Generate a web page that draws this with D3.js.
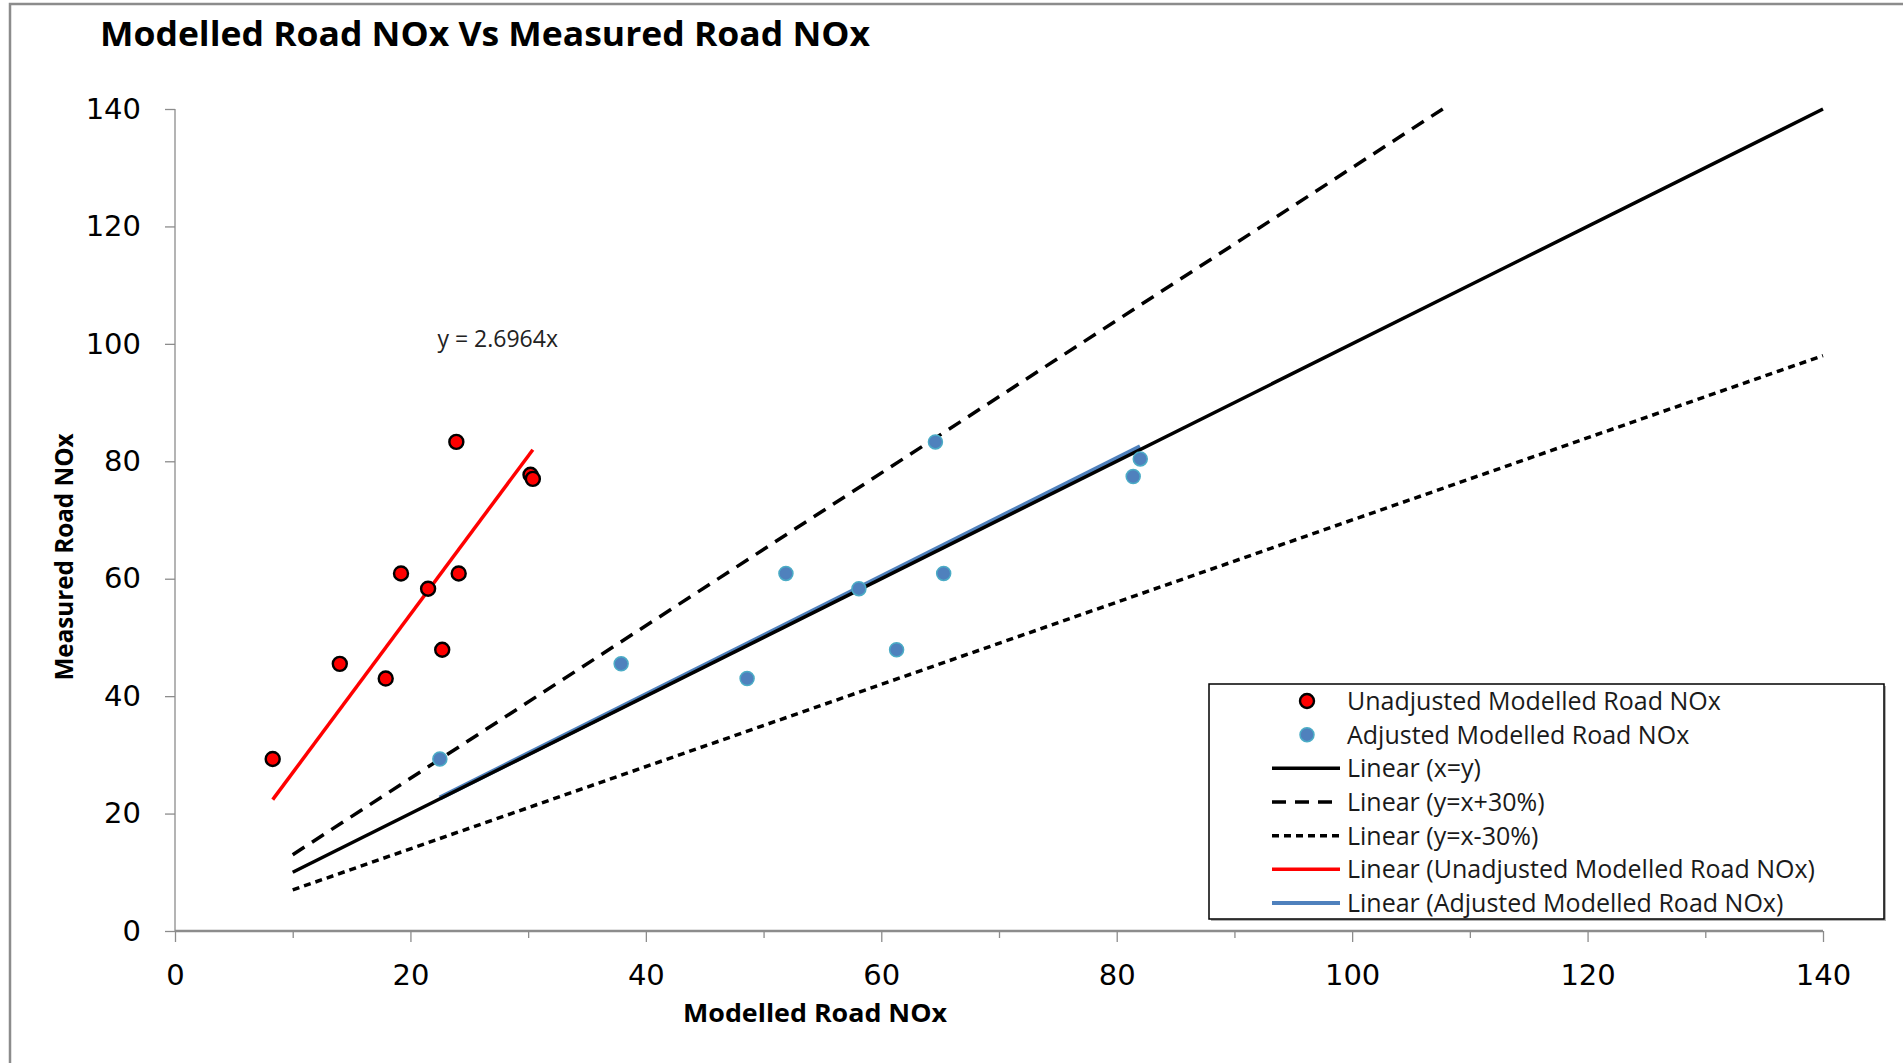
<!DOCTYPE html>
<html>
<head>
<meta charset="utf-8">
<script src="https://cdn.jsdelivr.net/npm/d3@7"></script>
<style>
  body { margin: 0; background: #fff; }
  svg { display: block; }
</style>
</head>
<body>
<div id="chart"></div>
<script>
// Modelled vs measured road NOx

// data
var unadjX = [8.3, 14.0, 17.9, 19.2, 21.5, 22.7, 23.9, 24.1, 30.2, 30.4];
var unadjY = [29.3, 45.5, 43.0, 60.9, 58.3, 47.9, 83.3, 60.9, 77.7, 77.0];
var adjX = [22.5, 37.9, 48.6, 51.9, 58.1, 61.3, 64.6, 65.3, 81.4, 82.0];
var adjY = [29.3, 45.5, 43.0, 60.9, 58.3, 47.9, 83.3, 60.9, 77.4, 80.4];

// straight lines: y = slope * x over [xFrom, xTo]
var lineNames = ["Linear (x=y)", "Linear (y=x+30%)", "Linear (y=x-30%)",
                 "Linear (Unadjusted Modelled Road NOx)", "Linear (Adjusted Modelled Road NOx)"];
var lineSlopes = [1, 1.3, 0.7, 2.6964, 1.006];
var lineFrom = [10, 10, 10, 8.3, 22.5];
var lineTo = [140, 107.7, 140, 30.4, 82.0];

var seriesNames = ["Unadjusted Modelled Road NOx", "Adjusted Modelled Road NOx"];
var xTicks = [0, 20, 40, 60, 80, 100, 120, 140];
var xMinorTicks = [10, 30, 50, 70, 90, 110, 130];
var yTicks = [0, 20, 40, 60, 80, 100, 120, 140];

var w = 1903, h = 1063;
var plotLeft = 175, plotRight = 1823, plotTop = 109, plotBottom = 931;

var svg = d3.select("#chart").append("svg")
    .attr("width", w).attr("height", h);

// chart frame (only top and left edges are visible)
svg.append("rect")
    .attr("x", 10).attr("y", 4)
    .attr("width", w + 20).attr("height", h + 20)
    .attr("fill", "#fff")
    .attr("stroke", "#8c8c8c").attr("stroke-width", 2.5);

var x = d3.scaleLinear().domain([0, 140]).range([plotLeft, plotRight]);
var y = d3.scaleLinear().domain([0, 140]).range([plotBottom, plotTop]);

// title
svg.append("text")
    .attr("x", 100).attr("y", 46)
    .attr("font-family", "'Open Sans', sans-serif")
    .attr("font-weight", "bold").attr("font-size", 34)
    .attr("textLength", 770).attr("lengthAdjust", "spacingAndGlyphs")
    .attr("fill", "#000")
    .text("Modelled Road NOx Vs Measured Road NOx");

// y axis
var yAxis = svg.append("g")
    .attr("transform", "translate(" + plotLeft + ",0)")
    .call(d3.axisLeft(y).tickValues(yTicks).tickSize(10).tickPadding(24));
yAxis.selectAll("path, line").attr("stroke", "#8c8c8c").attr("stroke-width", 1.3);
yAxis.select(".domain").attr("d", "M0," + plotTop + "V" + plotBottom);
yAxis.selectAll("text")
    .attr("font-family", "'DejaVu Sans', sans-serif").attr("font-size", 29).attr("fill", "#000");

// x axis
var xMinor = svg.append("g")
    .attr("transform", "translate(0," + plotBottom + ")")
    .call(d3.axisBottom(x).tickValues(xMinorTicks).tickSize(7).tickFormat(""));
xMinor.selectAll("line").attr("stroke", "#8c8c8c").attr("stroke-width", 1.3);
xMinor.select(".domain").remove();

var xAxis = svg.append("g")
    .attr("transform", "translate(0," + plotBottom + ")")
    .call(d3.axisBottom(x).tickValues(xTicks).tickSize(11).tickPadding(22));
xAxis.selectAll("line").attr("stroke", "#8c8c8c").attr("stroke-width", 1.3);
xAxis.select(".domain").attr("d", "M" + plotLeft + ",0H" + plotRight)
    .attr("stroke", "#8c8c8c").attr("stroke-width", 2.5);
xAxis.selectAll("text")
    .attr("font-family", "'DejaVu Sans', sans-serif").attr("font-size", 29).attr("fill", "#000");

// axis titles
svg.append("text")
    .attr("x", (683 + 947) / 2).attr("y", 1022)
    .attr("text-anchor", "middle")
    .attr("font-family", "'Open Sans', sans-serif")
    .attr("font-weight", "bold").attr("font-size", 25)
    .attr("textLength", 264).attr("lengthAdjust", "spacingAndGlyphs")
    .text("Modelled Road NOx");

svg.append("text")
    .attr("transform", "translate(73,557) rotate(-90)")
    .attr("text-anchor", "middle")
    .attr("font-family", "'Open Sans', sans-serif")
    .attr("font-weight", "bold").attr("font-size", 25)
    .attr("textLength", 247).attr("lengthAdjust", "spacingAndGlyphs")
    .text("Measured Road NOx");

// line styles
var lineColors = ["#000", "#000", "#000", "#ff0000", "#4f81bd"];
var lineWidths = [3.5, 3.5, 3.5, 3.5, 5];
var lineDash = [null, "14,9", "7,5", null, null];

var lineData = lineNames.map(function(n, i) {
    return { name: n, slope: lineSlopes[i], x0: lineFrom[i], x1: lineTo[i],
             color: lineColors[i], width: lineWidths[i], dash: lineDash[i] };
});

// draw order: blue trend first so black x=y sits over it
var drawOrder = [4, 1, 2, 0, 3];
drawOrder.forEach(function(i) {
    var d = lineData[i];
    svg.append("line")
        .attr("x1", x(d.x0)).attr("y1", y(d.slope * d.x0))
        .attr("x2", x(d.x1)).attr("y2", y(d.slope * d.x1))
        .attr("stroke", d.color).attr("stroke-width", d.width)
        .attr("stroke-dasharray", d.dash);
});

// equation label
svg.append("text")
    .attr("x", x(22.3)).attr("y", y(100.8))
    .attr("dy", "0.35em")
    .attr("font-family", "'Open Sans', sans-serif").attr("font-size", 23)
    .attr("fill", "#222")
    .text("y = 2.6964x");

// points
var unadj = unadjX.map(function(v, i) { return [v, unadjY[i]]; });
var adj = adjX.map(function(v, i) { return [v, adjY[i]]; });

svg.append("g").selectAll("circle")
    .data(adj).enter().append("circle")
    .attr("cx", function(d) { return x(d[0]); })
    .attr("cy", function(d) { return y(d[1]); })
    .attr("r", 7)
    .attr("fill", "#4f81bd").attr("stroke", "#4bacc6").attr("stroke-width", 1.5);

svg.append("g").selectAll("circle")
    .data(unadj).enter().append("circle")
    .attr("cx", function(d) { return x(d[0]); })
    .attr("cy", function(d) { return y(d[1]); })
    .attr("r", 7)
    .attr("fill", "#ff0000").attr("stroke", "#000").attr("stroke-width", 2.4);

// legend
var lg = svg.append("g");
lg.append("rect")
    .attr("x", 1211).attr("y", 686).attr("width", 675).attr("height", 235)
    .attr("fill", "#b0b0b0");
lg.append("rect")
    .attr("x", 1209).attr("y", 684).attr("width", 675).attr("height", 235)
    .attr("fill", "#fff").attr("stroke", "#000").attr("stroke-width", 1.5);

var legendItems = [
    { label: seriesNames[0], kind: "dot", fill: "#ff0000", stroke: "#000", sw: 2.4 },
    { label: seriesNames[1], kind: "dot", fill: "#4f81bd", stroke: "#4bacc6", sw: 1.5 }
].concat(lineData.map(function(d) {
    return { label: d.name, kind: "line", color: d.color, width: Math.min(d.width, 4), dash: d.dash };
}));

var rowY = d3.scalePoint().domain(d3.range(legendItems.length)).range([701, 903]);

legendItems.forEach(function(it, i) {
    var cy = rowY(i);
    if (it.kind == "dot") {
        lg.append("circle").attr("cx", 1307).attr("cy", cy).attr("r", 7)
            .attr("fill", it.fill).attr("stroke", it.stroke).attr("stroke-width", it.sw);
    } else {
        lg.append("line").attr("x1", 1272).attr("x2", 1340).attr("y1", cy).attr("y2", cy)
            .attr("stroke", it.color).attr("stroke-width", it.width)
            .attr("stroke-dasharray", it.dash);
    }
    lg.append("text")
        .attr("x", 1347).attr("y", cy).attr("dy", "0.36em")
        .attr("font-family", "'Open Sans', sans-serif").attr("font-size", 25)
        .attr("fill", "#1a1a1a")
        .text(it.label);
});
</script>
</body>
</html>
